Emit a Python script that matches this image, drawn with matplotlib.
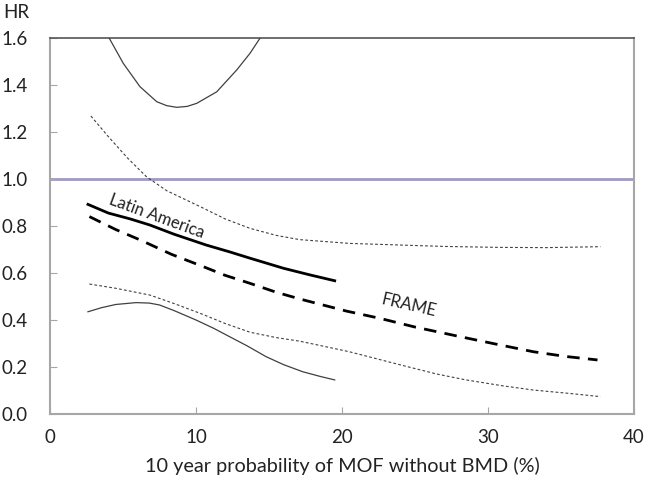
import matplotlib
matplotlib.use("Agg")
import matplotlib.pyplot as plt

# Latin America point estimate
la_x = [2.6, 4.0, 5.5, 6.85, 8.5, 10.7, 12.3, 13.7, 16.0, 17.8, 19.5]
la_y = [0.892, 0.855, 0.83, 0.804, 0.765, 0.719, 0.69, 0.663, 0.62, 0.592, 0.567]

# Latin America lower CI
la_lo_x = [2.6, 3.5, 4.5, 5.9, 6.8, 7.5, 8.5, 10.0, 11.2, 12.3, 13.5, 14.8, 16.0, 17.3, 18.5, 19.5]
la_lo_y = [0.435, 0.452, 0.466, 0.474, 0.472, 0.464, 0.44, 0.40, 0.365, 0.329, 0.29, 0.244, 0.21, 0.18, 0.16, 0.145]

# Latin America upper CI (visible part)
la_hi_x = [4.06, 5.02, 6.16, 7.31, 8.0, 8.68, 9.4, 10.05, 11.42, 12.79, 13.7, 14.38]
la_hi_y = [1.599, 1.492, 1.393, 1.329, 1.312, 1.305, 1.309, 1.322, 1.371, 1.464, 1.535, 1.599]

# FRAME point estimate
fr_x = [2.7, 4.5, 6.2, 8.3, 10.5, 12.0, 13.7, 15.5, 17.2, 20.3, 22.6, 25.0, 28.1, 30.5, 33.1, 35.3, 37.5]
fr_y = [0.84, 0.785, 0.74, 0.68, 0.627, 0.59, 0.556, 0.518, 0.488, 0.438, 0.407, 0.37, 0.329, 0.298, 0.265, 0.245, 0.23]

# FRAME upper CI
fr_hi_x = [2.8, 4.0, 5.3, 6.6, 8.0, 10.3, 12.0, 13.7, 15.5, 17.1, 20.5, 24.0, 27.0, 30.8, 34.0, 37.7]
fr_hi_y = [1.268, 1.18, 1.09, 1.01, 0.95, 0.882, 0.83, 0.79, 0.76, 0.742, 0.726, 0.719, 0.713, 0.709, 0.708, 0.712]

# FRAME lower CI
fr_lo_x = [2.7, 4.5, 6.85, 8.5, 10.3, 12.0, 13.7, 15.5, 17.1, 20.5, 24.0, 26.5, 28.5, 31.0, 33.1, 35.5, 37.7]
fr_lo_y = [0.553, 0.535, 0.506, 0.47, 0.428, 0.385, 0.348, 0.325, 0.31, 0.265, 0.209, 0.17, 0.145, 0.12, 0.102, 0.088, 0.074]

ref_y = 1.0
x_ticks = [0, 10, 20, 30, 40]
y_ticks = [0.0, 0.2, 0.4, 0.6, 0.8, 1.0, 1.2, 1.4, 1.6]

plt.rcParams['font.family'] = ['Lato', 'DejaVu Sans']

fig = plt.figure(figsize=(6.49, 4.86), dpi=100)
ax = fig.add_axes([50/649, 72/486, 584/649, 376/486])

ax.axhline(ref_y, color='#9e9ac2', lw=2.0, zorder=1)

ax.plot(la_hi_x, la_hi_y, color='#404040', lw=0.9, zorder=3)
ax.plot(la_lo_x, la_lo_y, color='#404040', lw=0.9, zorder=3)
ax.plot(fr_hi_x, fr_hi_y, color='#404040', lw=0.8, ls=(0, (2.5, 2)), zorder=3)
ax.plot(fr_lo_x, fr_lo_y, color='#404040', lw=0.8, ls=(0, (2.5, 2)), zorder=3)
ax.plot(la_x, la_y, color='black', lw=2.0, zorder=4)
ax.plot(fr_x, fr_y, color='black', lw=2.0, ls=(0, (4.5, 3)), zorder=4)

ax.text(7.3, 0.84, 'Latin America', rotation=-20, ha='center', va='center', fontsize=12, color='#222222')
ax.text(24.6, 0.462, 'FRAME', rotation=-13, ha='center', va='center', fontsize=12, color='#222222')

ax.set_xlim(0, 40)
ax.set_ylim(0, 1.6)
ax.set_xticks(x_ticks)
ax.set_yticks(y_ticks)
ax.set_xticklabels([str(v) for v in x_ticks])
ax.set_yticklabels([f'{v:.1f}' for v in y_ticks])
ax.tick_params(axis='both', direction='in', length=5, color='#a6a6a6', labelsize=13.5, labelcolor='#222222')
ax.tick_params(axis='y', pad=16)
ax.tick_params(axis='x', pad=11)

for s in ['left', 'bottom', 'right']:
    ax.spines[s].set_color('#a6a6a6')
    ax.spines[s].set_linewidth(1.5)
ax.spines['top'].set_color('#555555')
ax.spines['top'].set_linewidth(1.2)

ax.set_xlabel('10 year probability of MOF without BMD (%)', fontsize=14.3, color='#222222', labelpad=8)
fig.text(16/649, 1 - 13/486, 'HR', ha='center', va='center', fontsize=13.5, color='#222222')

fig.savefig('out.png', dpi=100)
